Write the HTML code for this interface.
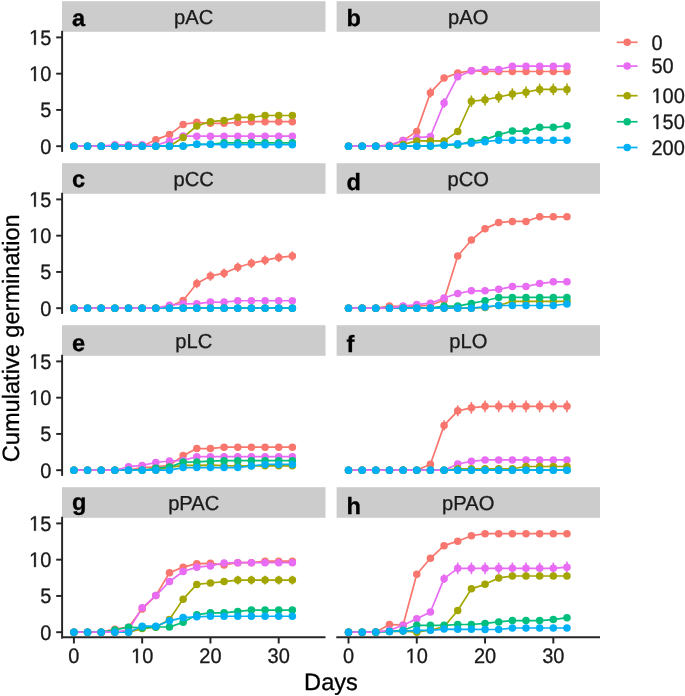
<!DOCTYPE html>
<html><head><meta charset="utf-8"><style>
html,body{margin:0;padding:0;background:#fff;width:685px;height:696px;overflow:hidden}
svg{display:block;font-family:"Liberation Sans",sans-serif;filter:blur(0.4px);text-rendering:geometricPrecision}
</style></head><body>
<svg width="685" height="696" viewBox="0 0 685 696">
<rect width="685" height="696" fill="#fff"/>
<rect x="62" y="1.2" width="263.5" height="30.6" fill="#CCCCCC"/>
<text x="193.75" y="23.9" font-size="20.2" text-anchor="middle" fill="#1a1a1a" stroke="#1a1a1a" stroke-width="0.3">pAC</text>
<text x="72" y="26" font-size="23.6" font-weight="bold" fill="#000" stroke="#000" stroke-width="0.3">a</text>
<polyline points="73.9,146.2 87.55,146.2 101.21,146.2 114.86,146.2 128.52,146.2 142.17,146.2 155.82,139.67 169.48,134.6 183.13,124.44 196.79,122.27 210.44,123.35 224.09,123.35 237.75,122.48 251.4,121.68 265.06,121.68 278.71,121.68 292.36,121.68" fill="none" stroke="#F8766D" stroke-width="1.7" stroke-linejoin="round"/>
<polyline points="73.9,146.2 87.55,146.2 101.21,146.2 114.86,146.2 128.52,146.2 142.17,146.2 155.82,146.2 169.48,146.2 183.13,137.5 196.79,125.89 210.44,121.68 224.09,120.45 237.75,117.33 251.4,117.33 265.06,115.52 278.71,115.52 292.36,115.52" fill="none" stroke="#A3A500" stroke-width="1.7" stroke-linejoin="round"/>
<polyline points="73.9,146.2 87.55,146.2 101.21,146.2 114.86,146.2 128.52,146.2 142.17,146.2 155.82,146.2 169.48,146.2 183.13,146.2 196.79,144.31 210.44,144.31 224.09,142.79 237.75,142.79 251.4,142.79 265.06,142.79 278.71,142.79 292.36,142.79" fill="none" stroke="#00BF7D" stroke-width="1.7" stroke-linejoin="round"/>
<polyline points="73.9,146.2 87.55,146.2 101.21,146.2 114.86,146.2 128.52,146.2 142.17,146.2 155.82,146.2 169.48,146.2 183.13,145.91 196.79,144.31 210.44,144.31 224.09,144.75 237.75,144.75 251.4,144.75 265.06,144.75 278.71,144.75 292.36,144.75" fill="none" stroke="#00B0F6" stroke-width="1.7" stroke-linejoin="round"/>
<polyline points="73.9,146.2 87.55,146.2 101.21,146.2 114.86,144.75 128.52,144.75 142.17,144.75 155.82,145.47 169.48,140.91 183.13,136.05 196.79,136.19 210.44,136.19 224.09,136.19 237.75,136.19 251.4,136.19 265.06,136.19 278.71,136.19 292.36,136.19" fill="none" stroke="#E76BF3" stroke-width="1.7" stroke-linejoin="round"/>
<circle cx="73.9" cy="146.2" r="3.75" fill="#F8766D"/>
<circle cx="87.55" cy="146.2" r="3.75" fill="#F8766D"/>
<circle cx="101.21" cy="146.2" r="3.75" fill="#F8766D"/>
<circle cx="114.86" cy="146.2" r="3.75" fill="#F8766D"/>
<circle cx="128.52" cy="146.2" r="3.75" fill="#F8766D"/>
<circle cx="142.17" cy="146.2" r="3.75" fill="#F8766D"/>
<circle cx="155.82" cy="139.67" r="3.75" fill="#F8766D"/>
<circle cx="169.48" cy="134.6" r="3.75" fill="#F8766D"/>
<circle cx="183.13" cy="124.44" r="3.75" fill="#F8766D"/>
<circle cx="196.79" cy="122.27" r="3.75" fill="#F8766D"/>
<circle cx="210.44" cy="123.35" r="3.75" fill="#F8766D"/>
<circle cx="224.09" cy="123.35" r="3.75" fill="#F8766D"/>
<circle cx="237.75" cy="122.48" r="3.75" fill="#F8766D"/>
<circle cx="251.4" cy="121.68" r="3.75" fill="#F8766D"/>
<circle cx="265.06" cy="121.68" r="3.75" fill="#F8766D"/>
<circle cx="278.71" cy="121.68" r="3.75" fill="#F8766D"/>
<circle cx="292.36" cy="121.68" r="3.75" fill="#F8766D"/>
<circle cx="73.9" cy="146.2" r="3.75" fill="#E76BF3"/>
<circle cx="87.55" cy="146.2" r="3.75" fill="#E76BF3"/>
<circle cx="101.21" cy="146.2" r="3.75" fill="#E76BF3"/>
<circle cx="114.86" cy="144.75" r="3.75" fill="#E76BF3"/>
<circle cx="128.52" cy="144.75" r="3.75" fill="#E76BF3"/>
<circle cx="142.17" cy="144.75" r="3.75" fill="#E76BF3"/>
<circle cx="155.82" cy="145.47" r="3.75" fill="#E76BF3"/>
<circle cx="169.48" cy="140.91" r="3.75" fill="#E76BF3"/>
<circle cx="183.13" cy="136.05" r="3.75" fill="#E76BF3"/>
<circle cx="196.79" cy="136.19" r="3.75" fill="#E76BF3"/>
<circle cx="210.44" cy="136.19" r="3.75" fill="#E76BF3"/>
<circle cx="224.09" cy="136.19" r="3.75" fill="#E76BF3"/>
<circle cx="237.75" cy="136.19" r="3.75" fill="#E76BF3"/>
<circle cx="251.4" cy="136.19" r="3.75" fill="#E76BF3"/>
<circle cx="265.06" cy="136.19" r="3.75" fill="#E76BF3"/>
<circle cx="278.71" cy="136.19" r="3.75" fill="#E76BF3"/>
<circle cx="292.36" cy="136.19" r="3.75" fill="#E76BF3"/>
<circle cx="73.9" cy="146.2" r="3.75" fill="#A3A500"/>
<circle cx="87.55" cy="146.2" r="3.75" fill="#A3A500"/>
<circle cx="101.21" cy="146.2" r="3.75" fill="#A3A500"/>
<circle cx="114.86" cy="146.2" r="3.75" fill="#A3A500"/>
<circle cx="128.52" cy="146.2" r="3.75" fill="#A3A500"/>
<circle cx="142.17" cy="146.2" r="3.75" fill="#A3A500"/>
<circle cx="155.82" cy="146.2" r="3.75" fill="#A3A500"/>
<circle cx="169.48" cy="146.2" r="3.75" fill="#A3A500"/>
<circle cx="183.13" cy="137.5" r="3.75" fill="#A3A500"/>
<circle cx="196.79" cy="125.89" r="3.75" fill="#A3A500"/>
<circle cx="210.44" cy="121.68" r="3.75" fill="#A3A500"/>
<circle cx="224.09" cy="120.45" r="3.75" fill="#A3A500"/>
<circle cx="237.75" cy="117.33" r="3.75" fill="#A3A500"/>
<circle cx="251.4" cy="117.33" r="3.75" fill="#A3A500"/>
<circle cx="265.06" cy="115.52" r="3.75" fill="#A3A500"/>
<circle cx="278.71" cy="115.52" r="3.75" fill="#A3A500"/>
<circle cx="292.36" cy="115.52" r="3.75" fill="#A3A500"/>
<circle cx="73.9" cy="146.2" r="3.75" fill="#00BF7D"/>
<circle cx="87.55" cy="146.2" r="3.75" fill="#00BF7D"/>
<circle cx="101.21" cy="146.2" r="3.75" fill="#00BF7D"/>
<circle cx="114.86" cy="146.2" r="3.75" fill="#00BF7D"/>
<circle cx="128.52" cy="146.2" r="3.75" fill="#00BF7D"/>
<circle cx="142.17" cy="146.2" r="3.75" fill="#00BF7D"/>
<circle cx="155.82" cy="146.2" r="3.75" fill="#00BF7D"/>
<circle cx="169.48" cy="146.2" r="3.75" fill="#00BF7D"/>
<circle cx="183.13" cy="146.2" r="3.75" fill="#00BF7D"/>
<circle cx="196.79" cy="144.31" r="3.75" fill="#00BF7D"/>
<circle cx="210.44" cy="144.31" r="3.75" fill="#00BF7D"/>
<circle cx="224.09" cy="142.79" r="3.75" fill="#00BF7D"/>
<circle cx="237.75" cy="142.79" r="3.75" fill="#00BF7D"/>
<circle cx="251.4" cy="142.79" r="3.75" fill="#00BF7D"/>
<circle cx="265.06" cy="142.79" r="3.75" fill="#00BF7D"/>
<circle cx="278.71" cy="142.79" r="3.75" fill="#00BF7D"/>
<circle cx="292.36" cy="142.79" r="3.75" fill="#00BF7D"/>
<circle cx="73.9" cy="146.2" r="3.75" fill="#00B0F6"/>
<circle cx="87.55" cy="146.2" r="3.75" fill="#00B0F6"/>
<circle cx="101.21" cy="146.2" r="3.75" fill="#00B0F6"/>
<circle cx="114.86" cy="146.2" r="3.75" fill="#00B0F6"/>
<circle cx="128.52" cy="146.2" r="3.75" fill="#00B0F6"/>
<circle cx="142.17" cy="146.2" r="3.75" fill="#00B0F6"/>
<circle cx="155.82" cy="146.2" r="3.75" fill="#00B0F6"/>
<circle cx="169.48" cy="146.2" r="3.75" fill="#00B0F6"/>
<circle cx="183.13" cy="145.91" r="3.75" fill="#00B0F6"/>
<circle cx="196.79" cy="144.31" r="3.75" fill="#00B0F6"/>
<circle cx="210.44" cy="144.31" r="3.75" fill="#00B0F6"/>
<circle cx="224.09" cy="144.75" r="3.75" fill="#00B0F6"/>
<circle cx="237.75" cy="144.75" r="3.75" fill="#00B0F6"/>
<circle cx="251.4" cy="144.75" r="3.75" fill="#00B0F6"/>
<circle cx="265.06" cy="144.75" r="3.75" fill="#00B0F6"/>
<circle cx="278.71" cy="144.75" r="3.75" fill="#00B0F6"/>
<circle cx="292.36" cy="144.75" r="3.75" fill="#00B0F6"/>
<line x1="62.1" x2="62.1" y1="30.8" y2="151.9" stroke="#262626" stroke-width="1.95"/>
<line x1="56.2" x2="62.1" y1="146.2" y2="146.2" stroke="#262626" stroke-width="1.95"/>
<text transform="translate(40.18 153.5) scale(1 1.05)" font-size="20" fill="#1a1a1a" stroke="#1a1a1a" stroke-width="0.3">0</text>
<line x1="56.2" x2="62.1" y1="109.93" y2="109.93" stroke="#262626" stroke-width="1.95"/>
<text transform="translate(40.18 117.23) scale(1 1.05)" font-size="20" fill="#1a1a1a" stroke="#1a1a1a" stroke-width="0.3">5</text>
<line x1="56.2" x2="62.1" y1="73.67" y2="73.67" stroke="#262626" stroke-width="1.95"/>
<path transform="translate(29.05 80.97) scale(0.009766 -0.010254)" d="M515 0L515 1237L197 1010L197 1180L530 1409L696 1409L696 0Z" fill="#1a1a1a" stroke="#1a1a1a" stroke-width="0.3" vector-effect="non-scaling-stroke"/>
<text transform="translate(40.18 80.97) scale(1 1.05)" font-size="20" fill="#1a1a1a" stroke="#1a1a1a" stroke-width="0.3">0</text>
<line x1="56.2" x2="62.1" y1="37.4" y2="37.4" stroke="#262626" stroke-width="1.95"/>
<path transform="translate(29.05 44.7) scale(0.009766 -0.010254)" d="M515 0L515 1237L197 1010L197 1180L530 1409L696 1409L696 0Z" fill="#1a1a1a" stroke="#1a1a1a" stroke-width="0.3" vector-effect="non-scaling-stroke"/>
<text transform="translate(40.18 44.7) scale(1 1.05)" font-size="20" fill="#1a1a1a" stroke="#1a1a1a" stroke-width="0.3">5</text>
<rect x="336.6" y="1.2" width="263.4" height="30.6" fill="#CCCCCC"/>
<text x="468.3" y="23.9" font-size="20.2" text-anchor="middle" fill="#1a1a1a" stroke="#1a1a1a" stroke-width="0.3">pAO</text>
<text x="346.6" y="26.25" font-size="23.6" font-weight="bold" fill="#000" stroke="#000" stroke-width="0.3">b</text>
<polyline points="348.5,146.2 362.15,146.2 375.81,146.2 389.46,145.47 403.12,140.62 416.77,131.4 430.42,92.67 444.08,78.09 457.73,72.94 471.39,70.77 485.04,71.49 498.69,71.49 512.35,71.49 526,71.49 539.66,71.49 553.31,71.49 566.96,71.49" fill="none" stroke="#F8766D" stroke-width="1.7" stroke-linejoin="round"/>
<polyline points="348.5,146.2 362.15,146.2 375.81,146.2 389.46,146.2 403.12,144.53 416.77,140.91 430.42,140.91 444.08,140.91 457.73,131.48 471.39,101.23 485.04,99.78 498.69,97.02 512.35,94.12 526,92.24 539.66,89.41 553.31,89.41 566.96,89.41" fill="none" stroke="#A3A500" stroke-width="1.7" stroke-linejoin="round"/>
<polyline points="348.5,146.2 362.15,146.2 375.81,146.2 389.46,146.2 403.12,146.2 416.77,146.2 430.42,146.2 444.08,145.26 457.73,144.97 471.39,141.41 485.04,139.67 498.69,134.6 512.35,131.11 526,131.11 539.66,127.34 553.31,127.34 566.96,125.82" fill="none" stroke="#00BF7D" stroke-width="1.7" stroke-linejoin="round"/>
<polyline points="348.5,146.2 362.15,146.2 375.81,146.2 389.46,146.2 403.12,146.2 416.77,146.2 430.42,145.84 444.08,145.04 457.73,143.66 471.39,143.3 485.04,141.63 498.69,140.25 512.35,140.25 526,140.25 539.66,140.25 553.31,140.25 566.96,140.25" fill="none" stroke="#00B0F6" stroke-width="1.7" stroke-linejoin="round"/>
<polyline points="348.5,146.2 362.15,146.2 375.81,146.2 389.46,145.33 403.12,140.62 416.77,137.71 430.42,136.55 444.08,102.97 457.73,76.72 471.39,70.77 485.04,69.54 498.69,69.54 512.35,66.2 526,66.2 539.66,66.2 553.31,66.2 566.96,66.2" fill="none" stroke="#E76BF3" stroke-width="1.7" stroke-linejoin="round"/>
<line x1="430.42" x2="430.42" y1="87.6" y2="97.75" stroke="#F8766D" stroke-width="1.6"/>
<line x1="444.08" x2="444.08" y1="97.9" y2="108.05" stroke="#E76BF3" stroke-width="1.6"/>
<line x1="471.39" x2="471.39" y1="95.43" y2="107.03" stroke="#A3A500" stroke-width="1.6"/>
<line x1="485.04" x2="485.04" y1="93.98" y2="105.58" stroke="#A3A500" stroke-width="1.6"/>
<line x1="498.69" x2="498.69" y1="91.22" y2="102.83" stroke="#A3A500" stroke-width="1.6"/>
<line x1="512.35" x2="512.35" y1="88.32" y2="99.93" stroke="#A3A500" stroke-width="1.6"/>
<line x1="526" x2="526" y1="86.44" y2="98.04" stroke="#A3A500" stroke-width="1.6"/>
<line x1="539.66" x2="539.66" y1="83.61" y2="95.21" stroke="#A3A500" stroke-width="1.6"/>
<line x1="553.31" x2="553.31" y1="83.61" y2="95.21" stroke="#A3A500" stroke-width="1.6"/>
<line x1="566.96" x2="566.96" y1="83.61" y2="95.21" stroke="#A3A500" stroke-width="1.6"/>
<circle cx="348.5" cy="146.2" r="3.75" fill="#F8766D"/>
<circle cx="362.15" cy="146.2" r="3.75" fill="#F8766D"/>
<circle cx="375.81" cy="146.2" r="3.75" fill="#F8766D"/>
<circle cx="389.46" cy="145.47" r="3.75" fill="#F8766D"/>
<circle cx="403.12" cy="140.62" r="3.75" fill="#F8766D"/>
<circle cx="416.77" cy="131.4" r="3.75" fill="#F8766D"/>
<circle cx="430.42" cy="92.67" r="3.75" fill="#F8766D"/>
<circle cx="444.08" cy="78.09" r="3.75" fill="#F8766D"/>
<circle cx="457.73" cy="72.94" r="3.75" fill="#F8766D"/>
<circle cx="471.39" cy="70.77" r="3.75" fill="#F8766D"/>
<circle cx="485.04" cy="71.49" r="3.75" fill="#F8766D"/>
<circle cx="498.69" cy="71.49" r="3.75" fill="#F8766D"/>
<circle cx="512.35" cy="71.49" r="3.75" fill="#F8766D"/>
<circle cx="526" cy="71.49" r="3.75" fill="#F8766D"/>
<circle cx="539.66" cy="71.49" r="3.75" fill="#F8766D"/>
<circle cx="553.31" cy="71.49" r="3.75" fill="#F8766D"/>
<circle cx="566.96" cy="71.49" r="3.75" fill="#F8766D"/>
<circle cx="348.5" cy="146.2" r="3.75" fill="#E76BF3"/>
<circle cx="362.15" cy="146.2" r="3.75" fill="#E76BF3"/>
<circle cx="375.81" cy="146.2" r="3.75" fill="#E76BF3"/>
<circle cx="389.46" cy="145.33" r="3.75" fill="#E76BF3"/>
<circle cx="403.12" cy="140.62" r="3.75" fill="#E76BF3"/>
<circle cx="416.77" cy="137.71" r="3.75" fill="#E76BF3"/>
<circle cx="430.42" cy="136.55" r="3.75" fill="#E76BF3"/>
<circle cx="444.08" cy="102.97" r="3.75" fill="#E76BF3"/>
<circle cx="457.73" cy="76.72" r="3.75" fill="#E76BF3"/>
<circle cx="471.39" cy="70.77" r="3.75" fill="#E76BF3"/>
<circle cx="485.04" cy="69.54" r="3.75" fill="#E76BF3"/>
<circle cx="498.69" cy="69.54" r="3.75" fill="#E76BF3"/>
<circle cx="512.35" cy="66.2" r="3.75" fill="#E76BF3"/>
<circle cx="526" cy="66.2" r="3.75" fill="#E76BF3"/>
<circle cx="539.66" cy="66.2" r="3.75" fill="#E76BF3"/>
<circle cx="553.31" cy="66.2" r="3.75" fill="#E76BF3"/>
<circle cx="566.96" cy="66.2" r="3.75" fill="#E76BF3"/>
<circle cx="348.5" cy="146.2" r="3.75" fill="#A3A500"/>
<circle cx="362.15" cy="146.2" r="3.75" fill="#A3A500"/>
<circle cx="375.81" cy="146.2" r="3.75" fill="#A3A500"/>
<circle cx="389.46" cy="146.2" r="3.75" fill="#A3A500"/>
<circle cx="403.12" cy="144.53" r="3.75" fill="#A3A500"/>
<circle cx="416.77" cy="140.91" r="3.75" fill="#A3A500"/>
<circle cx="430.42" cy="140.91" r="3.75" fill="#A3A500"/>
<circle cx="444.08" cy="140.91" r="3.75" fill="#A3A500"/>
<circle cx="457.73" cy="131.48" r="3.75" fill="#A3A500"/>
<circle cx="471.39" cy="101.23" r="3.75" fill="#A3A500"/>
<circle cx="485.04" cy="99.78" r="3.75" fill="#A3A500"/>
<circle cx="498.69" cy="97.02" r="3.75" fill="#A3A500"/>
<circle cx="512.35" cy="94.12" r="3.75" fill="#A3A500"/>
<circle cx="526" cy="92.24" r="3.75" fill="#A3A500"/>
<circle cx="539.66" cy="89.41" r="3.75" fill="#A3A500"/>
<circle cx="553.31" cy="89.41" r="3.75" fill="#A3A500"/>
<circle cx="566.96" cy="89.41" r="3.75" fill="#A3A500"/>
<circle cx="348.5" cy="146.2" r="3.75" fill="#00BF7D"/>
<circle cx="362.15" cy="146.2" r="3.75" fill="#00BF7D"/>
<circle cx="375.81" cy="146.2" r="3.75" fill="#00BF7D"/>
<circle cx="389.46" cy="146.2" r="3.75" fill="#00BF7D"/>
<circle cx="403.12" cy="146.2" r="3.75" fill="#00BF7D"/>
<circle cx="416.77" cy="146.2" r="3.75" fill="#00BF7D"/>
<circle cx="430.42" cy="146.2" r="3.75" fill="#00BF7D"/>
<circle cx="444.08" cy="145.26" r="3.75" fill="#00BF7D"/>
<circle cx="457.73" cy="144.97" r="3.75" fill="#00BF7D"/>
<circle cx="471.39" cy="141.41" r="3.75" fill="#00BF7D"/>
<circle cx="485.04" cy="139.67" r="3.75" fill="#00BF7D"/>
<circle cx="498.69" cy="134.6" r="3.75" fill="#00BF7D"/>
<circle cx="512.35" cy="131.11" r="3.75" fill="#00BF7D"/>
<circle cx="526" cy="131.11" r="3.75" fill="#00BF7D"/>
<circle cx="539.66" cy="127.34" r="3.75" fill="#00BF7D"/>
<circle cx="553.31" cy="127.34" r="3.75" fill="#00BF7D"/>
<circle cx="566.96" cy="125.82" r="3.75" fill="#00BF7D"/>
<circle cx="348.5" cy="146.2" r="3.75" fill="#00B0F6"/>
<circle cx="362.15" cy="146.2" r="3.75" fill="#00B0F6"/>
<circle cx="375.81" cy="146.2" r="3.75" fill="#00B0F6"/>
<circle cx="389.46" cy="146.2" r="3.75" fill="#00B0F6"/>
<circle cx="403.12" cy="146.2" r="3.75" fill="#00B0F6"/>
<circle cx="416.77" cy="146.2" r="3.75" fill="#00B0F6"/>
<circle cx="430.42" cy="145.84" r="3.75" fill="#00B0F6"/>
<circle cx="444.08" cy="145.04" r="3.75" fill="#00B0F6"/>
<circle cx="457.73" cy="143.66" r="3.75" fill="#00B0F6"/>
<circle cx="471.39" cy="143.3" r="3.75" fill="#00B0F6"/>
<circle cx="485.04" cy="141.63" r="3.75" fill="#00B0F6"/>
<circle cx="498.69" cy="140.25" r="3.75" fill="#00B0F6"/>
<circle cx="512.35" cy="140.25" r="3.75" fill="#00B0F6"/>
<circle cx="526" cy="140.25" r="3.75" fill="#00B0F6"/>
<circle cx="539.66" cy="140.25" r="3.75" fill="#00B0F6"/>
<circle cx="553.31" cy="140.25" r="3.75" fill="#00B0F6"/>
<circle cx="566.96" cy="140.25" r="3.75" fill="#00B0F6"/>
<rect x="62" y="163.2" width="263.5" height="30.6" fill="#CCCCCC"/>
<text x="193.75" y="185.9" font-size="20.2" text-anchor="middle" fill="#1a1a1a" stroke="#1a1a1a" stroke-width="0.3">pCC</text>
<text x="72" y="187.3" font-size="23.6" font-weight="bold" fill="#000" stroke="#000" stroke-width="0.3">c</text>
<polyline points="73.9,308.2 87.55,308.2 101.21,308.2 114.86,308.2 128.52,308.2 142.17,308.2 155.82,308.2 169.48,306.75 183.13,300.58 196.79,283.54 210.44,276.07 224.09,273.17 237.75,267.22 251.4,263.23 265.06,260.33 278.71,257.43 292.36,256.05" fill="none" stroke="#F8766D" stroke-width="1.7" stroke-linejoin="round"/>
<polyline points="73.9,308.2 87.55,308.2 101.21,308.2 114.86,308.2 128.52,308.2 142.17,308.2 155.82,308.2 169.48,308.2 183.13,308.2 196.79,308.2 210.44,308.2 224.09,308.2 237.75,308.2 251.4,308.2 265.06,308.2 278.71,308.2 292.36,308.2" fill="none" stroke="#A3A500" stroke-width="1.7" stroke-linejoin="round"/>
<polyline points="73.9,308.2 87.55,308.2 101.21,308.2 114.86,308.2 128.52,308.2 142.17,308.2 155.82,308.2 169.48,308.2 183.13,308.2 196.79,308.2 210.44,308.2 224.09,308.2 237.75,308.2 251.4,308.2 265.06,308.2 278.71,308.2 292.36,308.2" fill="none" stroke="#00BF7D" stroke-width="1.7" stroke-linejoin="round"/>
<polyline points="73.9,308.2 87.55,308.2 101.21,308.2 114.86,308.2 128.52,308.2 142.17,308.2 155.82,308.2 169.48,308.2 183.13,308.2 196.79,308.2 210.44,308.2 224.09,308.2 237.75,308.2 251.4,308.2 265.06,308.2 278.71,308.2 292.36,308.2" fill="none" stroke="#00B0F6" stroke-width="1.7" stroke-linejoin="round"/>
<polyline points="73.9,308.2 87.55,308.2 101.21,308.2 114.86,308.2 128.52,308.2 142.17,308.2 155.82,308.2 169.48,305.23 183.13,303.85 196.79,303.63 210.44,302.11 224.09,302.11 237.75,300.73 251.4,300.73 265.06,300.73 278.71,300.73 292.36,300.73" fill="none" stroke="#E76BF3" stroke-width="1.7" stroke-linejoin="round"/>
<line x1="196.79" x2="196.79" y1="278.83" y2="288.25" stroke="#F8766D" stroke-width="1.6"/>
<line x1="210.44" x2="210.44" y1="271.35" y2="280.78" stroke="#F8766D" stroke-width="1.6"/>
<line x1="224.09" x2="224.09" y1="268.45" y2="277.88" stroke="#F8766D" stroke-width="1.6"/>
<line x1="237.75" x2="237.75" y1="262.51" y2="271.94" stroke="#F8766D" stroke-width="1.6"/>
<line x1="251.4" x2="251.4" y1="258.52" y2="267.95" stroke="#F8766D" stroke-width="1.6"/>
<line x1="265.06" x2="265.06" y1="255.62" y2="265.04" stroke="#F8766D" stroke-width="1.6"/>
<line x1="278.71" x2="278.71" y1="252.71" y2="262.14" stroke="#F8766D" stroke-width="1.6"/>
<line x1="292.36" x2="292.36" y1="251.34" y2="260.77" stroke="#F8766D" stroke-width="1.6"/>
<circle cx="73.9" cy="308.2" r="3.75" fill="#F8766D"/>
<circle cx="87.55" cy="308.2" r="3.75" fill="#F8766D"/>
<circle cx="101.21" cy="308.2" r="3.75" fill="#F8766D"/>
<circle cx="114.86" cy="308.2" r="3.75" fill="#F8766D"/>
<circle cx="128.52" cy="308.2" r="3.75" fill="#F8766D"/>
<circle cx="142.17" cy="308.2" r="3.75" fill="#F8766D"/>
<circle cx="155.82" cy="308.2" r="3.75" fill="#F8766D"/>
<circle cx="169.48" cy="306.75" r="3.75" fill="#F8766D"/>
<circle cx="183.13" cy="300.58" r="3.75" fill="#F8766D"/>
<circle cx="196.79" cy="283.54" r="3.75" fill="#F8766D"/>
<circle cx="210.44" cy="276.07" r="3.75" fill="#F8766D"/>
<circle cx="224.09" cy="273.17" r="3.75" fill="#F8766D"/>
<circle cx="237.75" cy="267.22" r="3.75" fill="#F8766D"/>
<circle cx="251.4" cy="263.23" r="3.75" fill="#F8766D"/>
<circle cx="265.06" cy="260.33" r="3.75" fill="#F8766D"/>
<circle cx="278.71" cy="257.43" r="3.75" fill="#F8766D"/>
<circle cx="292.36" cy="256.05" r="3.75" fill="#F8766D"/>
<circle cx="73.9" cy="308.2" r="3.75" fill="#E76BF3"/>
<circle cx="87.55" cy="308.2" r="3.75" fill="#E76BF3"/>
<circle cx="101.21" cy="308.2" r="3.75" fill="#E76BF3"/>
<circle cx="114.86" cy="308.2" r="3.75" fill="#E76BF3"/>
<circle cx="128.52" cy="308.2" r="3.75" fill="#E76BF3"/>
<circle cx="142.17" cy="308.2" r="3.75" fill="#E76BF3"/>
<circle cx="155.82" cy="308.2" r="3.75" fill="#E76BF3"/>
<circle cx="169.48" cy="305.23" r="3.75" fill="#E76BF3"/>
<circle cx="183.13" cy="303.85" r="3.75" fill="#E76BF3"/>
<circle cx="196.79" cy="303.63" r="3.75" fill="#E76BF3"/>
<circle cx="210.44" cy="302.11" r="3.75" fill="#E76BF3"/>
<circle cx="224.09" cy="302.11" r="3.75" fill="#E76BF3"/>
<circle cx="237.75" cy="300.73" r="3.75" fill="#E76BF3"/>
<circle cx="251.4" cy="300.73" r="3.75" fill="#E76BF3"/>
<circle cx="265.06" cy="300.73" r="3.75" fill="#E76BF3"/>
<circle cx="278.71" cy="300.73" r="3.75" fill="#E76BF3"/>
<circle cx="292.36" cy="300.73" r="3.75" fill="#E76BF3"/>
<circle cx="73.9" cy="308.2" r="3.75" fill="#A3A500"/>
<circle cx="87.55" cy="308.2" r="3.75" fill="#A3A500"/>
<circle cx="101.21" cy="308.2" r="3.75" fill="#A3A500"/>
<circle cx="114.86" cy="308.2" r="3.75" fill="#A3A500"/>
<circle cx="128.52" cy="308.2" r="3.75" fill="#A3A500"/>
<circle cx="142.17" cy="308.2" r="3.75" fill="#A3A500"/>
<circle cx="155.82" cy="308.2" r="3.75" fill="#A3A500"/>
<circle cx="169.48" cy="308.2" r="3.75" fill="#A3A500"/>
<circle cx="183.13" cy="308.2" r="3.75" fill="#A3A500"/>
<circle cx="196.79" cy="308.2" r="3.75" fill="#A3A500"/>
<circle cx="210.44" cy="308.2" r="3.75" fill="#A3A500"/>
<circle cx="224.09" cy="308.2" r="3.75" fill="#A3A500"/>
<circle cx="237.75" cy="308.2" r="3.75" fill="#A3A500"/>
<circle cx="251.4" cy="308.2" r="3.75" fill="#A3A500"/>
<circle cx="265.06" cy="308.2" r="3.75" fill="#A3A500"/>
<circle cx="278.71" cy="308.2" r="3.75" fill="#A3A500"/>
<circle cx="292.36" cy="308.2" r="3.75" fill="#A3A500"/>
<circle cx="73.9" cy="308.2" r="3.75" fill="#00BF7D"/>
<circle cx="87.55" cy="308.2" r="3.75" fill="#00BF7D"/>
<circle cx="101.21" cy="308.2" r="3.75" fill="#00BF7D"/>
<circle cx="114.86" cy="308.2" r="3.75" fill="#00BF7D"/>
<circle cx="128.52" cy="308.2" r="3.75" fill="#00BF7D"/>
<circle cx="142.17" cy="308.2" r="3.75" fill="#00BF7D"/>
<circle cx="155.82" cy="308.2" r="3.75" fill="#00BF7D"/>
<circle cx="169.48" cy="308.2" r="3.75" fill="#00BF7D"/>
<circle cx="183.13" cy="308.2" r="3.75" fill="#00BF7D"/>
<circle cx="196.79" cy="308.2" r="3.75" fill="#00BF7D"/>
<circle cx="210.44" cy="308.2" r="3.75" fill="#00BF7D"/>
<circle cx="224.09" cy="308.2" r="3.75" fill="#00BF7D"/>
<circle cx="237.75" cy="308.2" r="3.75" fill="#00BF7D"/>
<circle cx="251.4" cy="308.2" r="3.75" fill="#00BF7D"/>
<circle cx="265.06" cy="308.2" r="3.75" fill="#00BF7D"/>
<circle cx="278.71" cy="308.2" r="3.75" fill="#00BF7D"/>
<circle cx="292.36" cy="308.2" r="3.75" fill="#00BF7D"/>
<circle cx="73.9" cy="308.2" r="3.75" fill="#00B0F6"/>
<circle cx="87.55" cy="308.2" r="3.75" fill="#00B0F6"/>
<circle cx="101.21" cy="308.2" r="3.75" fill="#00B0F6"/>
<circle cx="114.86" cy="308.2" r="3.75" fill="#00B0F6"/>
<circle cx="128.52" cy="308.2" r="3.75" fill="#00B0F6"/>
<circle cx="142.17" cy="308.2" r="3.75" fill="#00B0F6"/>
<circle cx="155.82" cy="308.2" r="3.75" fill="#00B0F6"/>
<circle cx="169.48" cy="308.2" r="3.75" fill="#00B0F6"/>
<circle cx="183.13" cy="308.2" r="3.75" fill="#00B0F6"/>
<circle cx="196.79" cy="308.2" r="3.75" fill="#00B0F6"/>
<circle cx="210.44" cy="308.2" r="3.75" fill="#00B0F6"/>
<circle cx="224.09" cy="308.2" r="3.75" fill="#00B0F6"/>
<circle cx="237.75" cy="308.2" r="3.75" fill="#00B0F6"/>
<circle cx="251.4" cy="308.2" r="3.75" fill="#00B0F6"/>
<circle cx="265.06" cy="308.2" r="3.75" fill="#00B0F6"/>
<circle cx="278.71" cy="308.2" r="3.75" fill="#00B0F6"/>
<circle cx="292.36" cy="308.2" r="3.75" fill="#00B0F6"/>
<line x1="62.1" x2="62.1" y1="192.8" y2="313.9" stroke="#262626" stroke-width="1.95"/>
<line x1="56.2" x2="62.1" y1="308.2" y2="308.2" stroke="#262626" stroke-width="1.95"/>
<text transform="translate(40.18 315.5) scale(1 1.05)" font-size="20" fill="#1a1a1a" stroke="#1a1a1a" stroke-width="0.3">0</text>
<line x1="56.2" x2="62.1" y1="271.94" y2="271.94" stroke="#262626" stroke-width="1.95"/>
<text transform="translate(40.18 279.24) scale(1 1.05)" font-size="20" fill="#1a1a1a" stroke="#1a1a1a" stroke-width="0.3">5</text>
<line x1="56.2" x2="62.1" y1="235.67" y2="235.67" stroke="#262626" stroke-width="1.95"/>
<path transform="translate(29.05 242.97) scale(0.009766 -0.010254)" d="M515 0L515 1237L197 1010L197 1180L530 1409L696 1409L696 0Z" fill="#1a1a1a" stroke="#1a1a1a" stroke-width="0.3" vector-effect="non-scaling-stroke"/>
<text transform="translate(40.18 242.97) scale(1 1.05)" font-size="20" fill="#1a1a1a" stroke="#1a1a1a" stroke-width="0.3">0</text>
<line x1="56.2" x2="62.1" y1="199.4" y2="199.4" stroke="#262626" stroke-width="1.95"/>
<path transform="translate(29.05 206.7) scale(0.009766 -0.010254)" d="M515 0L515 1237L197 1010L197 1180L530 1409L696 1409L696 0Z" fill="#1a1a1a" stroke="#1a1a1a" stroke-width="0.3" vector-effect="non-scaling-stroke"/>
<text transform="translate(40.18 206.7) scale(1 1.05)" font-size="20" fill="#1a1a1a" stroke="#1a1a1a" stroke-width="0.3">5</text>
<rect x="336.6" y="163.2" width="263.4" height="30.6" fill="#CCCCCC"/>
<text x="468.3" y="185.9" font-size="20.2" text-anchor="middle" fill="#1a1a1a" stroke="#1a1a1a" stroke-width="0.3">pCO</text>
<text x="346.6" y="190.15" font-size="23.6" font-weight="bold" fill="#000" stroke="#000" stroke-width="0.3">d</text>
<polyline points="348.5,308.2 362.15,308.2 375.81,308.2 389.46,306.1 403.12,306.39 416.77,306.1 430.42,305.23 444.08,299.93 457.73,256.05 471.39,240.02 485.04,228.63 498.69,222.61 512.35,221.38 526,221.38 539.66,216.81 553.31,216.81 566.96,216.81" fill="none" stroke="#F8766D" stroke-width="1.7" stroke-linejoin="round"/>
<polyline points="348.5,308.2 362.15,308.2 375.81,308.2 389.46,308.2 403.12,308.2 416.77,308.2 430.42,308.2 444.08,308.2 457.73,308.2 471.39,308.2 485.04,307.47 498.69,305.52 512.35,301.31 526,301.31 539.66,301.31 553.31,301.31 566.96,301.31" fill="none" stroke="#A3A500" stroke-width="1.7" stroke-linejoin="round"/>
<polyline points="348.5,308.2 362.15,308.2 375.81,308.2 389.46,308.2 403.12,308.2 416.77,308.2 430.42,308.2 444.08,306.1 457.73,306.1 471.39,303.41 485.04,300.73 498.69,297.47 512.35,297.47 526,297.47 539.66,297.47 553.31,297.47 566.96,297.47" fill="none" stroke="#00BF7D" stroke-width="1.7" stroke-linejoin="round"/>
<polyline points="348.5,308.2 362.15,308.2 375.81,308.2 389.46,308.2 403.12,308.2 416.77,308.2 430.42,308.2 444.08,308.2 457.73,308.2 471.39,308.2 485.04,306.97 498.69,305.52 512.35,305.52 526,305.52 539.66,305.52 553.31,305.52 566.96,303.99" fill="none" stroke="#00B0F6" stroke-width="1.7" stroke-linejoin="round"/>
<polyline points="348.5,308.2 362.15,308.2 375.81,308.2 389.46,308.2 403.12,306.1 416.77,304.57 430.42,303.2 444.08,297.97 457.73,293.55 471.39,290.79 485.04,290.79 498.69,289.34 512.35,286.51 526,286.51 539.66,283.61 553.31,281.8 566.96,281.8" fill="none" stroke="#E76BF3" stroke-width="1.7" stroke-linejoin="round"/>
<circle cx="348.5" cy="308.2" r="3.75" fill="#F8766D"/>
<circle cx="362.15" cy="308.2" r="3.75" fill="#F8766D"/>
<circle cx="375.81" cy="308.2" r="3.75" fill="#F8766D"/>
<circle cx="389.46" cy="306.1" r="3.75" fill="#F8766D"/>
<circle cx="403.12" cy="306.39" r="3.75" fill="#F8766D"/>
<circle cx="416.77" cy="306.1" r="3.75" fill="#F8766D"/>
<circle cx="430.42" cy="305.23" r="3.75" fill="#F8766D"/>
<circle cx="444.08" cy="299.93" r="3.75" fill="#F8766D"/>
<circle cx="457.73" cy="256.05" r="3.75" fill="#F8766D"/>
<circle cx="471.39" cy="240.02" r="3.75" fill="#F8766D"/>
<circle cx="485.04" cy="228.63" r="3.75" fill="#F8766D"/>
<circle cx="498.69" cy="222.61" r="3.75" fill="#F8766D"/>
<circle cx="512.35" cy="221.38" r="3.75" fill="#F8766D"/>
<circle cx="526" cy="221.38" r="3.75" fill="#F8766D"/>
<circle cx="539.66" cy="216.81" r="3.75" fill="#F8766D"/>
<circle cx="553.31" cy="216.81" r="3.75" fill="#F8766D"/>
<circle cx="566.96" cy="216.81" r="3.75" fill="#F8766D"/>
<circle cx="348.5" cy="308.2" r="3.75" fill="#E76BF3"/>
<circle cx="362.15" cy="308.2" r="3.75" fill="#E76BF3"/>
<circle cx="375.81" cy="308.2" r="3.75" fill="#E76BF3"/>
<circle cx="389.46" cy="308.2" r="3.75" fill="#E76BF3"/>
<circle cx="403.12" cy="306.1" r="3.75" fill="#E76BF3"/>
<circle cx="416.77" cy="304.57" r="3.75" fill="#E76BF3"/>
<circle cx="430.42" cy="303.2" r="3.75" fill="#E76BF3"/>
<circle cx="444.08" cy="297.97" r="3.75" fill="#E76BF3"/>
<circle cx="457.73" cy="293.55" r="3.75" fill="#E76BF3"/>
<circle cx="471.39" cy="290.79" r="3.75" fill="#E76BF3"/>
<circle cx="485.04" cy="290.79" r="3.75" fill="#E76BF3"/>
<circle cx="498.69" cy="289.34" r="3.75" fill="#E76BF3"/>
<circle cx="512.35" cy="286.51" r="3.75" fill="#E76BF3"/>
<circle cx="526" cy="286.51" r="3.75" fill="#E76BF3"/>
<circle cx="539.66" cy="283.61" r="3.75" fill="#E76BF3"/>
<circle cx="553.31" cy="281.8" r="3.75" fill="#E76BF3"/>
<circle cx="566.96" cy="281.8" r="3.75" fill="#E76BF3"/>
<circle cx="348.5" cy="308.2" r="3.75" fill="#A3A500"/>
<circle cx="362.15" cy="308.2" r="3.75" fill="#A3A500"/>
<circle cx="375.81" cy="308.2" r="3.75" fill="#A3A500"/>
<circle cx="389.46" cy="308.2" r="3.75" fill="#A3A500"/>
<circle cx="403.12" cy="308.2" r="3.75" fill="#A3A500"/>
<circle cx="416.77" cy="308.2" r="3.75" fill="#A3A500"/>
<circle cx="430.42" cy="308.2" r="3.75" fill="#A3A500"/>
<circle cx="444.08" cy="308.2" r="3.75" fill="#A3A500"/>
<circle cx="457.73" cy="308.2" r="3.75" fill="#A3A500"/>
<circle cx="471.39" cy="308.2" r="3.75" fill="#A3A500"/>
<circle cx="485.04" cy="307.47" r="3.75" fill="#A3A500"/>
<circle cx="498.69" cy="305.52" r="3.75" fill="#A3A500"/>
<circle cx="512.35" cy="301.31" r="3.75" fill="#A3A500"/>
<circle cx="526" cy="301.31" r="3.75" fill="#A3A500"/>
<circle cx="539.66" cy="301.31" r="3.75" fill="#A3A500"/>
<circle cx="553.31" cy="301.31" r="3.75" fill="#A3A500"/>
<circle cx="566.96" cy="301.31" r="3.75" fill="#A3A500"/>
<circle cx="348.5" cy="308.2" r="3.75" fill="#00BF7D"/>
<circle cx="362.15" cy="308.2" r="3.75" fill="#00BF7D"/>
<circle cx="375.81" cy="308.2" r="3.75" fill="#00BF7D"/>
<circle cx="389.46" cy="308.2" r="3.75" fill="#00BF7D"/>
<circle cx="403.12" cy="308.2" r="3.75" fill="#00BF7D"/>
<circle cx="416.77" cy="308.2" r="3.75" fill="#00BF7D"/>
<circle cx="430.42" cy="308.2" r="3.75" fill="#00BF7D"/>
<circle cx="444.08" cy="306.1" r="3.75" fill="#00BF7D"/>
<circle cx="457.73" cy="306.1" r="3.75" fill="#00BF7D"/>
<circle cx="471.39" cy="303.41" r="3.75" fill="#00BF7D"/>
<circle cx="485.04" cy="300.73" r="3.75" fill="#00BF7D"/>
<circle cx="498.69" cy="297.47" r="3.75" fill="#00BF7D"/>
<circle cx="512.35" cy="297.47" r="3.75" fill="#00BF7D"/>
<circle cx="526" cy="297.47" r="3.75" fill="#00BF7D"/>
<circle cx="539.66" cy="297.47" r="3.75" fill="#00BF7D"/>
<circle cx="553.31" cy="297.47" r="3.75" fill="#00BF7D"/>
<circle cx="566.96" cy="297.47" r="3.75" fill="#00BF7D"/>
<circle cx="348.5" cy="308.2" r="3.75" fill="#00B0F6"/>
<circle cx="362.15" cy="308.2" r="3.75" fill="#00B0F6"/>
<circle cx="375.81" cy="308.2" r="3.75" fill="#00B0F6"/>
<circle cx="389.46" cy="308.2" r="3.75" fill="#00B0F6"/>
<circle cx="403.12" cy="308.2" r="3.75" fill="#00B0F6"/>
<circle cx="416.77" cy="308.2" r="3.75" fill="#00B0F6"/>
<circle cx="430.42" cy="308.2" r="3.75" fill="#00B0F6"/>
<circle cx="444.08" cy="308.2" r="3.75" fill="#00B0F6"/>
<circle cx="457.73" cy="308.2" r="3.75" fill="#00B0F6"/>
<circle cx="471.39" cy="308.2" r="3.75" fill="#00B0F6"/>
<circle cx="485.04" cy="306.97" r="3.75" fill="#00B0F6"/>
<circle cx="498.69" cy="305.52" r="3.75" fill="#00B0F6"/>
<circle cx="512.35" cy="305.52" r="3.75" fill="#00B0F6"/>
<circle cx="526" cy="305.52" r="3.75" fill="#00B0F6"/>
<circle cx="539.66" cy="305.52" r="3.75" fill="#00B0F6"/>
<circle cx="553.31" cy="305.52" r="3.75" fill="#00B0F6"/>
<circle cx="566.96" cy="303.99" r="3.75" fill="#00B0F6"/>
<rect x="62" y="325.2" width="263.5" height="30.6" fill="#CCCCCC"/>
<text x="193.75" y="347.9" font-size="20.2" text-anchor="middle" fill="#1a1a1a" stroke="#1a1a1a" stroke-width="0.3">pLC</text>
<text x="72" y="350.9" font-size="23.6" font-weight="bold" fill="#000" stroke="#000" stroke-width="0.3">e</text>
<polyline points="73.9,470.2 87.55,470.2 101.21,470.2 114.86,470.2 128.52,470.2 142.17,467.59 155.82,466.94 169.48,465.41 183.13,455.62 196.79,448.59 210.44,448.59 224.09,447.21 237.75,447.21 251.4,447.21 265.06,447.21 278.71,447.21 292.36,447.21" fill="none" stroke="#F8766D" stroke-width="1.7" stroke-linejoin="round"/>
<polyline points="73.9,470.2 87.55,470.2 101.21,470.2 114.86,470.2 128.52,470.2 142.17,470.2 155.82,470.2 169.48,467.3 183.13,465.41 196.79,465.41 210.44,465.12 224.09,465.7 237.75,465.85 251.4,465.85 265.06,465.85 278.71,465.85 292.36,465.85" fill="none" stroke="#A3A500" stroke-width="1.7" stroke-linejoin="round"/>
<polyline points="73.9,470.2 87.55,470.2 101.21,470.2 114.86,470.2 128.52,470.2 142.17,470.2 155.82,468.31 169.48,466.94 183.13,462.08 196.79,461.93 210.44,461.13 224.09,460.7 237.75,460.7 251.4,460.7 265.06,460.7 278.71,460.7 292.36,460.7" fill="none" stroke="#00BF7D" stroke-width="1.7" stroke-linejoin="round"/>
<polyline points="73.9,470.2 87.55,470.2 101.21,470.2 114.86,470.2 128.52,470.2 142.17,470.2 155.82,470.2 169.48,470.2 183.13,467.59 196.79,467.59 210.44,467.59 224.09,467.59 237.75,467.59 251.4,465.99 265.06,464.47 278.71,464.47 292.36,464.47" fill="none" stroke="#00B0F6" stroke-width="1.7" stroke-linejoin="round"/>
<polyline points="73.9,470.2 87.55,470.2 101.21,470.2 114.86,470.2 128.52,466.72 142.17,465.41 155.82,462.51 169.48,460.99 183.13,460.41 196.79,456.71 210.44,456.71 224.09,456.71 237.75,456.71 251.4,456.71 265.06,456.71 278.71,456.71 292.36,456.71" fill="none" stroke="#E76BF3" stroke-width="1.7" stroke-linejoin="round"/>
<circle cx="73.9" cy="470.2" r="3.75" fill="#F8766D"/>
<circle cx="87.55" cy="470.2" r="3.75" fill="#F8766D"/>
<circle cx="101.21" cy="470.2" r="3.75" fill="#F8766D"/>
<circle cx="114.86" cy="470.2" r="3.75" fill="#F8766D"/>
<circle cx="128.52" cy="470.2" r="3.75" fill="#F8766D"/>
<circle cx="142.17" cy="467.59" r="3.75" fill="#F8766D"/>
<circle cx="155.82" cy="466.94" r="3.75" fill="#F8766D"/>
<circle cx="169.48" cy="465.41" r="3.75" fill="#F8766D"/>
<circle cx="183.13" cy="455.62" r="3.75" fill="#F8766D"/>
<circle cx="196.79" cy="448.59" r="3.75" fill="#F8766D"/>
<circle cx="210.44" cy="448.59" r="3.75" fill="#F8766D"/>
<circle cx="224.09" cy="447.21" r="3.75" fill="#F8766D"/>
<circle cx="237.75" cy="447.21" r="3.75" fill="#F8766D"/>
<circle cx="251.4" cy="447.21" r="3.75" fill="#F8766D"/>
<circle cx="265.06" cy="447.21" r="3.75" fill="#F8766D"/>
<circle cx="278.71" cy="447.21" r="3.75" fill="#F8766D"/>
<circle cx="292.36" cy="447.21" r="3.75" fill="#F8766D"/>
<circle cx="73.9" cy="470.2" r="3.75" fill="#E76BF3"/>
<circle cx="87.55" cy="470.2" r="3.75" fill="#E76BF3"/>
<circle cx="101.21" cy="470.2" r="3.75" fill="#E76BF3"/>
<circle cx="114.86" cy="470.2" r="3.75" fill="#E76BF3"/>
<circle cx="128.52" cy="466.72" r="3.75" fill="#E76BF3"/>
<circle cx="142.17" cy="465.41" r="3.75" fill="#E76BF3"/>
<circle cx="155.82" cy="462.51" r="3.75" fill="#E76BF3"/>
<circle cx="169.48" cy="460.99" r="3.75" fill="#E76BF3"/>
<circle cx="183.13" cy="460.41" r="3.75" fill="#E76BF3"/>
<circle cx="196.79" cy="456.71" r="3.75" fill="#E76BF3"/>
<circle cx="210.44" cy="456.71" r="3.75" fill="#E76BF3"/>
<circle cx="224.09" cy="456.71" r="3.75" fill="#E76BF3"/>
<circle cx="237.75" cy="456.71" r="3.75" fill="#E76BF3"/>
<circle cx="251.4" cy="456.71" r="3.75" fill="#E76BF3"/>
<circle cx="265.06" cy="456.71" r="3.75" fill="#E76BF3"/>
<circle cx="278.71" cy="456.71" r="3.75" fill="#E76BF3"/>
<circle cx="292.36" cy="456.71" r="3.75" fill="#E76BF3"/>
<circle cx="73.9" cy="470.2" r="3.75" fill="#A3A500"/>
<circle cx="87.55" cy="470.2" r="3.75" fill="#A3A500"/>
<circle cx="101.21" cy="470.2" r="3.75" fill="#A3A500"/>
<circle cx="114.86" cy="470.2" r="3.75" fill="#A3A500"/>
<circle cx="128.52" cy="470.2" r="3.75" fill="#A3A500"/>
<circle cx="142.17" cy="470.2" r="3.75" fill="#A3A500"/>
<circle cx="155.82" cy="470.2" r="3.75" fill="#A3A500"/>
<circle cx="169.48" cy="467.3" r="3.75" fill="#A3A500"/>
<circle cx="183.13" cy="465.41" r="3.75" fill="#A3A500"/>
<circle cx="196.79" cy="465.41" r="3.75" fill="#A3A500"/>
<circle cx="210.44" cy="465.12" r="3.75" fill="#A3A500"/>
<circle cx="224.09" cy="465.7" r="3.75" fill="#A3A500"/>
<circle cx="237.75" cy="465.85" r="3.75" fill="#A3A500"/>
<circle cx="251.4" cy="465.85" r="3.75" fill="#A3A500"/>
<circle cx="265.06" cy="465.85" r="3.75" fill="#A3A500"/>
<circle cx="278.71" cy="465.85" r="3.75" fill="#A3A500"/>
<circle cx="292.36" cy="465.85" r="3.75" fill="#A3A500"/>
<circle cx="73.9" cy="470.2" r="3.75" fill="#00BF7D"/>
<circle cx="87.55" cy="470.2" r="3.75" fill="#00BF7D"/>
<circle cx="101.21" cy="470.2" r="3.75" fill="#00BF7D"/>
<circle cx="114.86" cy="470.2" r="3.75" fill="#00BF7D"/>
<circle cx="128.52" cy="470.2" r="3.75" fill="#00BF7D"/>
<circle cx="142.17" cy="470.2" r="3.75" fill="#00BF7D"/>
<circle cx="155.82" cy="468.31" r="3.75" fill="#00BF7D"/>
<circle cx="169.48" cy="466.94" r="3.75" fill="#00BF7D"/>
<circle cx="183.13" cy="462.08" r="3.75" fill="#00BF7D"/>
<circle cx="196.79" cy="461.93" r="3.75" fill="#00BF7D"/>
<circle cx="210.44" cy="461.13" r="3.75" fill="#00BF7D"/>
<circle cx="224.09" cy="460.7" r="3.75" fill="#00BF7D"/>
<circle cx="237.75" cy="460.7" r="3.75" fill="#00BF7D"/>
<circle cx="251.4" cy="460.7" r="3.75" fill="#00BF7D"/>
<circle cx="265.06" cy="460.7" r="3.75" fill="#00BF7D"/>
<circle cx="278.71" cy="460.7" r="3.75" fill="#00BF7D"/>
<circle cx="292.36" cy="460.7" r="3.75" fill="#00BF7D"/>
<circle cx="73.9" cy="470.2" r="3.75" fill="#00B0F6"/>
<circle cx="87.55" cy="470.2" r="3.75" fill="#00B0F6"/>
<circle cx="101.21" cy="470.2" r="3.75" fill="#00B0F6"/>
<circle cx="114.86" cy="470.2" r="3.75" fill="#00B0F6"/>
<circle cx="128.52" cy="470.2" r="3.75" fill="#00B0F6"/>
<circle cx="142.17" cy="470.2" r="3.75" fill="#00B0F6"/>
<circle cx="155.82" cy="470.2" r="3.75" fill="#00B0F6"/>
<circle cx="169.48" cy="470.2" r="3.75" fill="#00B0F6"/>
<circle cx="183.13" cy="467.59" r="3.75" fill="#00B0F6"/>
<circle cx="196.79" cy="467.59" r="3.75" fill="#00B0F6"/>
<circle cx="210.44" cy="467.59" r="3.75" fill="#00B0F6"/>
<circle cx="224.09" cy="467.59" r="3.75" fill="#00B0F6"/>
<circle cx="237.75" cy="467.59" r="3.75" fill="#00B0F6"/>
<circle cx="251.4" cy="465.99" r="3.75" fill="#00B0F6"/>
<circle cx="265.06" cy="464.47" r="3.75" fill="#00B0F6"/>
<circle cx="278.71" cy="464.47" r="3.75" fill="#00B0F6"/>
<circle cx="292.36" cy="464.47" r="3.75" fill="#00B0F6"/>
<line x1="62.1" x2="62.1" y1="354.8" y2="475.9" stroke="#262626" stroke-width="1.95"/>
<line x1="56.2" x2="62.1" y1="470.2" y2="470.2" stroke="#262626" stroke-width="1.95"/>
<text transform="translate(40.18 477.5) scale(1 1.05)" font-size="20" fill="#1a1a1a" stroke="#1a1a1a" stroke-width="0.3">0</text>
<line x1="56.2" x2="62.1" y1="433.94" y2="433.94" stroke="#262626" stroke-width="1.95"/>
<text transform="translate(40.18 441.24) scale(1 1.05)" font-size="20" fill="#1a1a1a" stroke="#1a1a1a" stroke-width="0.3">5</text>
<line x1="56.2" x2="62.1" y1="397.67" y2="397.67" stroke="#262626" stroke-width="1.95"/>
<path transform="translate(29.05 404.97) scale(0.009766 -0.010254)" d="M515 0L515 1237L197 1010L197 1180L530 1409L696 1409L696 0Z" fill="#1a1a1a" stroke="#1a1a1a" stroke-width="0.3" vector-effect="non-scaling-stroke"/>
<text transform="translate(40.18 404.97) scale(1 1.05)" font-size="20" fill="#1a1a1a" stroke="#1a1a1a" stroke-width="0.3">0</text>
<line x1="56.2" x2="62.1" y1="361.4" y2="361.4" stroke="#262626" stroke-width="1.95"/>
<path transform="translate(29.05 368.7) scale(0.009766 -0.010254)" d="M515 0L515 1237L197 1010L197 1180L530 1409L696 1409L696 0Z" fill="#1a1a1a" stroke="#1a1a1a" stroke-width="0.3" vector-effect="non-scaling-stroke"/>
<text transform="translate(40.18 368.7) scale(1 1.05)" font-size="20" fill="#1a1a1a" stroke="#1a1a1a" stroke-width="0.3">5</text>
<rect x="336.6" y="325.2" width="263.4" height="30.6" fill="#CCCCCC"/>
<text x="468.3" y="347.9" font-size="20.2" text-anchor="middle" fill="#1a1a1a" stroke="#1a1a1a" stroke-width="0.3">pLO</text>
<text x="346.6" y="351.9" font-size="23.6" font-weight="bold" fill="#000" stroke="#000" stroke-width="0.3">f</text>
<polyline points="348.5,470.2 362.15,470.2 375.81,470.2 389.46,470.2 403.12,470.2 416.77,470.2 430.42,464.18 444.08,425.38 457.73,410.8 471.39,407.82 485.04,406.37 498.69,406.37 512.35,406.37 526,406.37 539.66,406.37 553.31,406.37 566.96,406.37" fill="none" stroke="#F8766D" stroke-width="1.7" stroke-linejoin="round"/>
<polyline points="348.5,470.2 362.15,470.2 375.81,470.2 389.46,470.2 403.12,470.2 416.77,470.2 430.42,470.2 444.08,470.2 457.73,468.75 471.39,468.75 485.04,468.75 498.69,468.75 512.35,468.75 526,466.5 539.66,466.5 553.31,466.5 566.96,466.5" fill="none" stroke="#A3A500" stroke-width="1.7" stroke-linejoin="round"/>
<polyline points="348.5,470.2 362.15,470.2 375.81,470.2 389.46,470.2 403.12,470.2 416.77,470.2 430.42,470.2 444.08,470.2 457.73,470.2 471.39,470.2 485.04,470.2 498.69,470.2 512.35,470.2 526,470.2 539.66,470.2 553.31,470.2 566.96,470.2" fill="none" stroke="#00BF7D" stroke-width="1.7" stroke-linejoin="round"/>
<polyline points="348.5,470.2 362.15,470.2 375.81,470.2 389.46,470.2 403.12,470.2 416.77,470.2 430.42,470.2 444.08,470.2 457.73,470.2 471.39,470.2 485.04,470.2 498.69,470.2 512.35,470.2 526,470.2 539.66,470.2 553.31,470.2 566.96,470.2" fill="none" stroke="#00B0F6" stroke-width="1.7" stroke-linejoin="round"/>
<polyline points="348.5,470.2 362.15,470.2 375.81,470.2 389.46,470.2 403.12,470.2 416.77,470.2 430.42,470.2 444.08,470.2 457.73,463.96 471.39,461.35 485.04,459.9 498.69,459.9 512.35,459.9 526,459.9 539.66,459.9 553.31,459.9 566.96,459.9" fill="none" stroke="#E76BF3" stroke-width="1.7" stroke-linejoin="round"/>
<line x1="444.08" x2="444.08" y1="420.3" y2="430.45" stroke="#F8766D" stroke-width="1.6"/>
<line x1="457.73" x2="457.73" y1="405.36" y2="416.24" stroke="#F8766D" stroke-width="1.6"/>
<line x1="471.39" x2="471.39" y1="402.02" y2="413.63" stroke="#F8766D" stroke-width="1.6"/>
<line x1="485.04" x2="485.04" y1="400.57" y2="412.18" stroke="#F8766D" stroke-width="1.6"/>
<line x1="498.69" x2="498.69" y1="400.57" y2="412.18" stroke="#F8766D" stroke-width="1.6"/>
<line x1="512.35" x2="512.35" y1="400.57" y2="412.18" stroke="#F8766D" stroke-width="1.6"/>
<line x1="526" x2="526" y1="400.57" y2="412.18" stroke="#F8766D" stroke-width="1.6"/>
<line x1="539.66" x2="539.66" y1="400.57" y2="412.18" stroke="#F8766D" stroke-width="1.6"/>
<line x1="553.31" x2="553.31" y1="400.57" y2="412.18" stroke="#F8766D" stroke-width="1.6"/>
<line x1="566.96" x2="566.96" y1="400.57" y2="412.18" stroke="#F8766D" stroke-width="1.6"/>
<circle cx="348.5" cy="470.2" r="3.75" fill="#F8766D"/>
<circle cx="362.15" cy="470.2" r="3.75" fill="#F8766D"/>
<circle cx="375.81" cy="470.2" r="3.75" fill="#F8766D"/>
<circle cx="389.46" cy="470.2" r="3.75" fill="#F8766D"/>
<circle cx="403.12" cy="470.2" r="3.75" fill="#F8766D"/>
<circle cx="416.77" cy="470.2" r="3.75" fill="#F8766D"/>
<circle cx="430.42" cy="464.18" r="3.75" fill="#F8766D"/>
<circle cx="444.08" cy="425.38" r="3.75" fill="#F8766D"/>
<circle cx="457.73" cy="410.8" r="3.75" fill="#F8766D"/>
<circle cx="471.39" cy="407.82" r="3.75" fill="#F8766D"/>
<circle cx="485.04" cy="406.37" r="3.75" fill="#F8766D"/>
<circle cx="498.69" cy="406.37" r="3.75" fill="#F8766D"/>
<circle cx="512.35" cy="406.37" r="3.75" fill="#F8766D"/>
<circle cx="526" cy="406.37" r="3.75" fill="#F8766D"/>
<circle cx="539.66" cy="406.37" r="3.75" fill="#F8766D"/>
<circle cx="553.31" cy="406.37" r="3.75" fill="#F8766D"/>
<circle cx="566.96" cy="406.37" r="3.75" fill="#F8766D"/>
<circle cx="348.5" cy="470.2" r="3.75" fill="#E76BF3"/>
<circle cx="362.15" cy="470.2" r="3.75" fill="#E76BF3"/>
<circle cx="375.81" cy="470.2" r="3.75" fill="#E76BF3"/>
<circle cx="389.46" cy="470.2" r="3.75" fill="#E76BF3"/>
<circle cx="403.12" cy="470.2" r="3.75" fill="#E76BF3"/>
<circle cx="416.77" cy="470.2" r="3.75" fill="#E76BF3"/>
<circle cx="430.42" cy="470.2" r="3.75" fill="#E76BF3"/>
<circle cx="444.08" cy="470.2" r="3.75" fill="#E76BF3"/>
<circle cx="457.73" cy="463.96" r="3.75" fill="#E76BF3"/>
<circle cx="471.39" cy="461.35" r="3.75" fill="#E76BF3"/>
<circle cx="485.04" cy="459.9" r="3.75" fill="#E76BF3"/>
<circle cx="498.69" cy="459.9" r="3.75" fill="#E76BF3"/>
<circle cx="512.35" cy="459.9" r="3.75" fill="#E76BF3"/>
<circle cx="526" cy="459.9" r="3.75" fill="#E76BF3"/>
<circle cx="539.66" cy="459.9" r="3.75" fill="#E76BF3"/>
<circle cx="553.31" cy="459.9" r="3.75" fill="#E76BF3"/>
<circle cx="566.96" cy="459.9" r="3.75" fill="#E76BF3"/>
<circle cx="348.5" cy="470.2" r="3.75" fill="#A3A500"/>
<circle cx="362.15" cy="470.2" r="3.75" fill="#A3A500"/>
<circle cx="375.81" cy="470.2" r="3.75" fill="#A3A500"/>
<circle cx="389.46" cy="470.2" r="3.75" fill="#A3A500"/>
<circle cx="403.12" cy="470.2" r="3.75" fill="#A3A500"/>
<circle cx="416.77" cy="470.2" r="3.75" fill="#A3A500"/>
<circle cx="430.42" cy="470.2" r="3.75" fill="#A3A500"/>
<circle cx="444.08" cy="470.2" r="3.75" fill="#A3A500"/>
<circle cx="457.73" cy="468.75" r="3.75" fill="#A3A500"/>
<circle cx="471.39" cy="468.75" r="3.75" fill="#A3A500"/>
<circle cx="485.04" cy="468.75" r="3.75" fill="#A3A500"/>
<circle cx="498.69" cy="468.75" r="3.75" fill="#A3A500"/>
<circle cx="512.35" cy="468.75" r="3.75" fill="#A3A500"/>
<circle cx="526" cy="466.5" r="3.75" fill="#A3A500"/>
<circle cx="539.66" cy="466.5" r="3.75" fill="#A3A500"/>
<circle cx="553.31" cy="466.5" r="3.75" fill="#A3A500"/>
<circle cx="566.96" cy="466.5" r="3.75" fill="#A3A500"/>
<circle cx="348.5" cy="470.2" r="3.75" fill="#00BF7D"/>
<circle cx="362.15" cy="470.2" r="3.75" fill="#00BF7D"/>
<circle cx="375.81" cy="470.2" r="3.75" fill="#00BF7D"/>
<circle cx="389.46" cy="470.2" r="3.75" fill="#00BF7D"/>
<circle cx="403.12" cy="470.2" r="3.75" fill="#00BF7D"/>
<circle cx="416.77" cy="470.2" r="3.75" fill="#00BF7D"/>
<circle cx="430.42" cy="470.2" r="3.75" fill="#00BF7D"/>
<circle cx="444.08" cy="470.2" r="3.75" fill="#00BF7D"/>
<circle cx="457.73" cy="470.2" r="3.75" fill="#00BF7D"/>
<circle cx="471.39" cy="470.2" r="3.75" fill="#00BF7D"/>
<circle cx="485.04" cy="470.2" r="3.75" fill="#00BF7D"/>
<circle cx="498.69" cy="470.2" r="3.75" fill="#00BF7D"/>
<circle cx="512.35" cy="470.2" r="3.75" fill="#00BF7D"/>
<circle cx="526" cy="470.2" r="3.75" fill="#00BF7D"/>
<circle cx="539.66" cy="470.2" r="3.75" fill="#00BF7D"/>
<circle cx="553.31" cy="470.2" r="3.75" fill="#00BF7D"/>
<circle cx="566.96" cy="470.2" r="3.75" fill="#00BF7D"/>
<circle cx="348.5" cy="470.2" r="3.75" fill="#00B0F6"/>
<circle cx="362.15" cy="470.2" r="3.75" fill="#00B0F6"/>
<circle cx="375.81" cy="470.2" r="3.75" fill="#00B0F6"/>
<circle cx="389.46" cy="470.2" r="3.75" fill="#00B0F6"/>
<circle cx="403.12" cy="470.2" r="3.75" fill="#00B0F6"/>
<circle cx="416.77" cy="470.2" r="3.75" fill="#00B0F6"/>
<circle cx="430.42" cy="470.2" r="3.75" fill="#00B0F6"/>
<circle cx="444.08" cy="470.2" r="3.75" fill="#00B0F6"/>
<circle cx="457.73" cy="470.2" r="3.75" fill="#00B0F6"/>
<circle cx="471.39" cy="470.2" r="3.75" fill="#00B0F6"/>
<circle cx="485.04" cy="470.2" r="3.75" fill="#00B0F6"/>
<circle cx="498.69" cy="470.2" r="3.75" fill="#00B0F6"/>
<circle cx="512.35" cy="470.2" r="3.75" fill="#00B0F6"/>
<circle cx="526" cy="470.2" r="3.75" fill="#00B0F6"/>
<circle cx="539.66" cy="470.2" r="3.75" fill="#00B0F6"/>
<circle cx="553.31" cy="470.2" r="3.75" fill="#00B0F6"/>
<circle cx="566.96" cy="470.2" r="3.75" fill="#00B0F6"/>
<rect x="62" y="487.2" width="263.5" height="30.6" fill="#CCCCCC"/>
<text x="193.75" y="509.9" font-size="20.2" text-anchor="middle" fill="#1a1a1a" stroke="#1a1a1a" stroke-width="0.3">pPAC</text>
<text x="72" y="510" font-size="23.6" font-weight="bold" fill="#000" stroke="#000" stroke-width="0.3">g</text>
<polyline points="73.9,632.2 87.55,632.2 101.21,632.2 114.86,629.15 128.52,627.2 142.17,609.06 155.82,595.57 169.48,572.8 183.13,567.14 196.79,563.66 210.44,563.37 224.09,564.89 237.75,562.72 251.4,562.72 265.06,561.19 278.71,561.19 292.36,561.19" fill="none" stroke="#F8766D" stroke-width="1.7" stroke-linejoin="round"/>
<polyline points="73.9,632.2 87.55,632.2 101.21,632.2 114.86,632.2 128.52,632.2 142.17,628.57 155.82,627.2 169.48,619.43 183.13,599.13 196.79,584.4 210.44,583.02 224.09,581.57 237.75,580.12 251.4,580.12 265.06,580.12 278.71,580.12 292.36,580.12" fill="none" stroke="#A3A500" stroke-width="1.7" stroke-linejoin="round"/>
<polyline points="73.9,632.2 87.55,632.2 101.21,632.2 114.86,630.02 128.52,627.2 142.17,627.85 155.82,626.98 169.48,626.98 183.13,622.34 196.79,614.65 210.44,612.83 224.09,612.83 237.75,611.46 251.4,610.08 265.06,610.08 278.71,610.08 292.36,610.08" fill="none" stroke="#00BF7D" stroke-width="1.7" stroke-linejoin="round"/>
<polyline points="73.9,632.2 87.55,632.2 101.21,632.2 114.86,632.2 128.52,632.2 142.17,626.18 155.82,626.18 169.48,620.81 183.13,617.55 196.79,616.82 210.44,616.24 224.09,616.24 237.75,616.24 251.4,616.24 265.06,616.24 278.71,616.24 292.36,616.24" fill="none" stroke="#00B0F6" stroke-width="1.7" stroke-linejoin="round"/>
<polyline points="73.9,632.2 87.55,632.2 101.21,632.2 114.86,632.2 128.52,630.02 142.17,607.83 155.82,595.57 169.48,581.57 183.13,571.49 196.79,567.14 210.44,565.91 224.09,563.01 237.75,562.72 251.4,562.72 265.06,562.72 278.71,562.72 292.36,562.72" fill="none" stroke="#E76BF3" stroke-width="1.7" stroke-linejoin="round"/>
<line x1="237.75" x2="237.75" y1="575.77" y2="584.48" stroke="#A3A500" stroke-width="1.6"/>
<line x1="251.4" x2="251.4" y1="575.77" y2="584.48" stroke="#A3A500" stroke-width="1.6"/>
<line x1="265.06" x2="265.06" y1="575.77" y2="584.48" stroke="#A3A500" stroke-width="1.6"/>
<line x1="278.71" x2="278.71" y1="575.77" y2="584.48" stroke="#A3A500" stroke-width="1.6"/>
<line x1="292.36" x2="292.36" y1="575.77" y2="584.48" stroke="#A3A500" stroke-width="1.6"/>
<circle cx="73.9" cy="632.2" r="3.75" fill="#F8766D"/>
<circle cx="87.55" cy="632.2" r="3.75" fill="#F8766D"/>
<circle cx="101.21" cy="632.2" r="3.75" fill="#F8766D"/>
<circle cx="114.86" cy="629.15" r="3.75" fill="#F8766D"/>
<circle cx="128.52" cy="627.2" r="3.75" fill="#F8766D"/>
<circle cx="142.17" cy="609.06" r="3.75" fill="#F8766D"/>
<circle cx="155.82" cy="595.57" r="3.75" fill="#F8766D"/>
<circle cx="169.48" cy="572.8" r="3.75" fill="#F8766D"/>
<circle cx="183.13" cy="567.14" r="3.75" fill="#F8766D"/>
<circle cx="196.79" cy="563.66" r="3.75" fill="#F8766D"/>
<circle cx="210.44" cy="563.37" r="3.75" fill="#F8766D"/>
<circle cx="224.09" cy="564.89" r="3.75" fill="#F8766D"/>
<circle cx="237.75" cy="562.72" r="3.75" fill="#F8766D"/>
<circle cx="251.4" cy="562.72" r="3.75" fill="#F8766D"/>
<circle cx="265.06" cy="561.19" r="3.75" fill="#F8766D"/>
<circle cx="278.71" cy="561.19" r="3.75" fill="#F8766D"/>
<circle cx="292.36" cy="561.19" r="3.75" fill="#F8766D"/>
<circle cx="73.9" cy="632.2" r="3.75" fill="#E76BF3"/>
<circle cx="87.55" cy="632.2" r="3.75" fill="#E76BF3"/>
<circle cx="101.21" cy="632.2" r="3.75" fill="#E76BF3"/>
<circle cx="114.86" cy="632.2" r="3.75" fill="#E76BF3"/>
<circle cx="128.52" cy="630.02" r="3.75" fill="#E76BF3"/>
<circle cx="142.17" cy="607.83" r="3.75" fill="#E76BF3"/>
<circle cx="155.82" cy="595.57" r="3.75" fill="#E76BF3"/>
<circle cx="169.48" cy="581.57" r="3.75" fill="#E76BF3"/>
<circle cx="183.13" cy="571.49" r="3.75" fill="#E76BF3"/>
<circle cx="196.79" cy="567.14" r="3.75" fill="#E76BF3"/>
<circle cx="210.44" cy="565.91" r="3.75" fill="#E76BF3"/>
<circle cx="224.09" cy="563.01" r="3.75" fill="#E76BF3"/>
<circle cx="237.75" cy="562.72" r="3.75" fill="#E76BF3"/>
<circle cx="251.4" cy="562.72" r="3.75" fill="#E76BF3"/>
<circle cx="265.06" cy="562.72" r="3.75" fill="#E76BF3"/>
<circle cx="278.71" cy="562.72" r="3.75" fill="#E76BF3"/>
<circle cx="292.36" cy="562.72" r="3.75" fill="#E76BF3"/>
<circle cx="73.9" cy="632.2" r="3.75" fill="#A3A500"/>
<circle cx="87.55" cy="632.2" r="3.75" fill="#A3A500"/>
<circle cx="101.21" cy="632.2" r="3.75" fill="#A3A500"/>
<circle cx="114.86" cy="632.2" r="3.75" fill="#A3A500"/>
<circle cx="128.52" cy="632.2" r="3.75" fill="#A3A500"/>
<circle cx="142.17" cy="628.57" r="3.75" fill="#A3A500"/>
<circle cx="155.82" cy="627.2" r="3.75" fill="#A3A500"/>
<circle cx="169.48" cy="619.43" r="3.75" fill="#A3A500"/>
<circle cx="183.13" cy="599.13" r="3.75" fill="#A3A500"/>
<circle cx="196.79" cy="584.4" r="3.75" fill="#A3A500"/>
<circle cx="210.44" cy="583.02" r="3.75" fill="#A3A500"/>
<circle cx="224.09" cy="581.57" r="3.75" fill="#A3A500"/>
<circle cx="237.75" cy="580.12" r="3.75" fill="#A3A500"/>
<circle cx="251.4" cy="580.12" r="3.75" fill="#A3A500"/>
<circle cx="265.06" cy="580.12" r="3.75" fill="#A3A500"/>
<circle cx="278.71" cy="580.12" r="3.75" fill="#A3A500"/>
<circle cx="292.36" cy="580.12" r="3.75" fill="#A3A500"/>
<circle cx="73.9" cy="632.2" r="3.75" fill="#00BF7D"/>
<circle cx="87.55" cy="632.2" r="3.75" fill="#00BF7D"/>
<circle cx="101.21" cy="632.2" r="3.75" fill="#00BF7D"/>
<circle cx="114.86" cy="630.02" r="3.75" fill="#00BF7D"/>
<circle cx="128.52" cy="627.2" r="3.75" fill="#00BF7D"/>
<circle cx="142.17" cy="627.85" r="3.75" fill="#00BF7D"/>
<circle cx="155.82" cy="626.98" r="3.75" fill="#00BF7D"/>
<circle cx="169.48" cy="626.98" r="3.75" fill="#00BF7D"/>
<circle cx="183.13" cy="622.34" r="3.75" fill="#00BF7D"/>
<circle cx="196.79" cy="614.65" r="3.75" fill="#00BF7D"/>
<circle cx="210.44" cy="612.83" r="3.75" fill="#00BF7D"/>
<circle cx="224.09" cy="612.83" r="3.75" fill="#00BF7D"/>
<circle cx="237.75" cy="611.46" r="3.75" fill="#00BF7D"/>
<circle cx="251.4" cy="610.08" r="3.75" fill="#00BF7D"/>
<circle cx="265.06" cy="610.08" r="3.75" fill="#00BF7D"/>
<circle cx="278.71" cy="610.08" r="3.75" fill="#00BF7D"/>
<circle cx="292.36" cy="610.08" r="3.75" fill="#00BF7D"/>
<circle cx="73.9" cy="632.2" r="3.75" fill="#00B0F6"/>
<circle cx="87.55" cy="632.2" r="3.75" fill="#00B0F6"/>
<circle cx="101.21" cy="632.2" r="3.75" fill="#00B0F6"/>
<circle cx="114.86" cy="632.2" r="3.75" fill="#00B0F6"/>
<circle cx="128.52" cy="632.2" r="3.75" fill="#00B0F6"/>
<circle cx="142.17" cy="626.18" r="3.75" fill="#00B0F6"/>
<circle cx="155.82" cy="626.18" r="3.75" fill="#00B0F6"/>
<circle cx="169.48" cy="620.81" r="3.75" fill="#00B0F6"/>
<circle cx="183.13" cy="617.55" r="3.75" fill="#00B0F6"/>
<circle cx="196.79" cy="616.82" r="3.75" fill="#00B0F6"/>
<circle cx="210.44" cy="616.24" r="3.75" fill="#00B0F6"/>
<circle cx="224.09" cy="616.24" r="3.75" fill="#00B0F6"/>
<circle cx="237.75" cy="616.24" r="3.75" fill="#00B0F6"/>
<circle cx="251.4" cy="616.24" r="3.75" fill="#00B0F6"/>
<circle cx="265.06" cy="616.24" r="3.75" fill="#00B0F6"/>
<circle cx="278.71" cy="616.24" r="3.75" fill="#00B0F6"/>
<circle cx="292.36" cy="616.24" r="3.75" fill="#00B0F6"/>
<line x1="62.1" x2="62.1" y1="516.8" y2="638.6" stroke="#262626" stroke-width="1.95"/>
<line x1="56.2" x2="62.1" y1="632.2" y2="632.2" stroke="#262626" stroke-width="1.95"/>
<text transform="translate(40.18 639.5) scale(1 1.05)" font-size="20" fill="#1a1a1a" stroke="#1a1a1a" stroke-width="0.3">0</text>
<line x1="56.2" x2="62.1" y1="595.94" y2="595.94" stroke="#262626" stroke-width="1.95"/>
<text transform="translate(40.18 603.24) scale(1 1.05)" font-size="20" fill="#1a1a1a" stroke="#1a1a1a" stroke-width="0.3">5</text>
<line x1="56.2" x2="62.1" y1="559.67" y2="559.67" stroke="#262626" stroke-width="1.95"/>
<path transform="translate(29.05 566.97) scale(0.009766 -0.010254)" d="M515 0L515 1237L197 1010L197 1180L530 1409L696 1409L696 0Z" fill="#1a1a1a" stroke="#1a1a1a" stroke-width="0.3" vector-effect="non-scaling-stroke"/>
<text transform="translate(40.18 566.97) scale(1 1.05)" font-size="20" fill="#1a1a1a" stroke="#1a1a1a" stroke-width="0.3">0</text>
<line x1="56.2" x2="62.1" y1="523.41" y2="523.41" stroke="#262626" stroke-width="1.95"/>
<path transform="translate(29.05 530.71) scale(0.009766 -0.010254)" d="M515 0L515 1237L197 1010L197 1180L530 1409L696 1409L696 0Z" fill="#1a1a1a" stroke="#1a1a1a" stroke-width="0.3" vector-effect="non-scaling-stroke"/>
<text transform="translate(40.18 530.71) scale(1 1.05)" font-size="20" fill="#1a1a1a" stroke="#1a1a1a" stroke-width="0.3">5</text>
<line x1="61.7" x2="325.5" y1="637.3" y2="637.3" stroke="#262626" stroke-width="1.95"/>
<line x1="73.9" x2="73.9" y1="637.3" y2="643.5" stroke="#262626" stroke-width="1.95"/>
<text transform="translate(68.34 663.1) scale(1 1.05)" font-size="20" fill="#1a1a1a" stroke="#1a1a1a" stroke-width="0.3">0</text>
<line x1="142.17" x2="142.17" y1="637.3" y2="643.5" stroke="#262626" stroke-width="1.95"/>
<path transform="translate(131.05 663.1) scale(0.009766 -0.010254)" d="M515 0L515 1237L197 1010L197 1180L530 1409L696 1409L696 0Z" fill="#1a1a1a" stroke="#1a1a1a" stroke-width="0.3" vector-effect="non-scaling-stroke"/>
<text transform="translate(142.17 663.1) scale(1 1.05)" font-size="20" fill="#1a1a1a" stroke="#1a1a1a" stroke-width="0.3">0</text>
<line x1="210.44" x2="210.44" y1="637.3" y2="643.5" stroke="#262626" stroke-width="1.95"/>
<text transform="translate(199.32 663.1) scale(1 1.05)" font-size="20" fill="#1a1a1a" stroke="#1a1a1a" stroke-width="0.3">2</text>
<text transform="translate(210.44 663.1) scale(1 1.05)" font-size="20" fill="#1a1a1a" stroke="#1a1a1a" stroke-width="0.3">0</text>
<line x1="278.71" x2="278.71" y1="637.3" y2="643.5" stroke="#262626" stroke-width="1.95"/>
<text transform="translate(267.59 663.1) scale(1 1.05)" font-size="20" fill="#1a1a1a" stroke="#1a1a1a" stroke-width="0.3">3</text>
<text transform="translate(278.71 663.1) scale(1 1.05)" font-size="20" fill="#1a1a1a" stroke="#1a1a1a" stroke-width="0.3">0</text>
<rect x="336.6" y="487.2" width="263.4" height="30.6" fill="#CCCCCC"/>
<text x="468.3" y="509.9" font-size="20.2" text-anchor="middle" fill="#1a1a1a" stroke="#1a1a1a" stroke-width="0.3">pPAO</text>
<text x="346.6" y="513.7" font-size="23.6" font-weight="bold" fill="#000" stroke="#000" stroke-width="0.3">h</text>
<polyline points="348.5,632.2 362.15,632.2 375.81,632.2 389.46,624.58 403.12,624.95 416.77,574.18 430.42,558.29 444.08,545.67 457.73,541.17 471.39,535.74 485.04,533.63 498.69,533.63 512.35,533.63 526,533.63 539.66,533.63 553.31,533.63 566.96,533.63" fill="none" stroke="#F8766D" stroke-width="1.7" stroke-linejoin="round"/>
<polyline points="348.5,632.2 362.15,632.2 375.81,631.98 389.46,631.47 403.12,631.11 416.77,632.2 430.42,630.02 444.08,626.76 457.73,610.44 471.39,588.83 485.04,584.33 498.69,577.95 512.35,575.99 526,575.99 539.66,575.99 553.31,575.99 566.96,575.99" fill="none" stroke="#A3A500" stroke-width="1.7" stroke-linejoin="round"/>
<polyline points="348.5,632.2 362.15,632.2 375.81,632.2 389.46,631.47 403.12,630.31 416.77,625.31 430.42,625.31 444.08,625.31 457.73,624.51 471.39,624.51 485.04,623.42 498.69,621.9 512.35,620.6 526,620.6 539.66,620.6 553.31,619.58 566.96,617.69" fill="none" stroke="#00BF7D" stroke-width="1.7" stroke-linejoin="round"/>
<polyline points="348.5,632.2 362.15,632.2 375.81,631.98 389.46,631.47 403.12,631.11 416.77,630.31 430.42,630.31 444.08,629.08 457.73,629.3 471.39,629.3 485.04,629.52 498.69,629.52 512.35,627.99 526,627.99 539.66,627.99 553.31,627.99 566.96,627.99" fill="none" stroke="#00B0F6" stroke-width="1.7" stroke-linejoin="round"/>
<polyline points="348.5,632.2 362.15,632.2 375.81,632.2 389.46,630.31 403.12,625.31 416.77,618.71 430.42,611.96 444.08,578.67 457.73,568.37 471.39,568.37 485.04,568.37 498.69,568.37 512.35,568.37 526,568.37 539.66,568.37 553.31,568.37 566.96,567.21" fill="none" stroke="#E76BF3" stroke-width="1.7" stroke-linejoin="round"/>
<line x1="444.08" x2="444.08" y1="574.32" y2="583.02" stroke="#E76BF3" stroke-width="1.6"/>
<line x1="457.73" x2="457.73" y1="562.57" y2="574.18" stroke="#E76BF3" stroke-width="1.6"/>
<line x1="471.39" x2="471.39" y1="562.57" y2="574.18" stroke="#E76BF3" stroke-width="1.6"/>
<line x1="485.04" x2="485.04" y1="562.57" y2="574.18" stroke="#E76BF3" stroke-width="1.6"/>
<line x1="498.69" x2="498.69" y1="562.57" y2="574.18" stroke="#E76BF3" stroke-width="1.6"/>
<line x1="512.35" x2="512.35" y1="562.57" y2="574.18" stroke="#E76BF3" stroke-width="1.6"/>
<line x1="526" x2="526" y1="562.57" y2="574.18" stroke="#E76BF3" stroke-width="1.6"/>
<line x1="539.66" x2="539.66" y1="562.57" y2="574.18" stroke="#E76BF3" stroke-width="1.6"/>
<line x1="553.31" x2="553.31" y1="562.57" y2="574.18" stroke="#E76BF3" stroke-width="1.6"/>
<line x1="566.96" x2="566.96" y1="561.41" y2="573.02" stroke="#E76BF3" stroke-width="1.6"/>
<circle cx="348.5" cy="632.2" r="3.75" fill="#F8766D"/>
<circle cx="362.15" cy="632.2" r="3.75" fill="#F8766D"/>
<circle cx="375.81" cy="632.2" r="3.75" fill="#F8766D"/>
<circle cx="389.46" cy="624.58" r="3.75" fill="#F8766D"/>
<circle cx="403.12" cy="624.95" r="3.75" fill="#F8766D"/>
<circle cx="416.77" cy="574.18" r="3.75" fill="#F8766D"/>
<circle cx="430.42" cy="558.29" r="3.75" fill="#F8766D"/>
<circle cx="444.08" cy="545.67" r="3.75" fill="#F8766D"/>
<circle cx="457.73" cy="541.17" r="3.75" fill="#F8766D"/>
<circle cx="471.39" cy="535.74" r="3.75" fill="#F8766D"/>
<circle cx="485.04" cy="533.63" r="3.75" fill="#F8766D"/>
<circle cx="498.69" cy="533.63" r="3.75" fill="#F8766D"/>
<circle cx="512.35" cy="533.63" r="3.75" fill="#F8766D"/>
<circle cx="526" cy="533.63" r="3.75" fill="#F8766D"/>
<circle cx="539.66" cy="533.63" r="3.75" fill="#F8766D"/>
<circle cx="553.31" cy="533.63" r="3.75" fill="#F8766D"/>
<circle cx="566.96" cy="533.63" r="3.75" fill="#F8766D"/>
<circle cx="348.5" cy="632.2" r="3.75" fill="#E76BF3"/>
<circle cx="362.15" cy="632.2" r="3.75" fill="#E76BF3"/>
<circle cx="375.81" cy="632.2" r="3.75" fill="#E76BF3"/>
<circle cx="389.46" cy="630.31" r="3.75" fill="#E76BF3"/>
<circle cx="403.12" cy="625.31" r="3.75" fill="#E76BF3"/>
<circle cx="416.77" cy="618.71" r="3.75" fill="#E76BF3"/>
<circle cx="430.42" cy="611.96" r="3.75" fill="#E76BF3"/>
<circle cx="444.08" cy="578.67" r="3.75" fill="#E76BF3"/>
<circle cx="457.73" cy="568.37" r="3.75" fill="#E76BF3"/>
<circle cx="471.39" cy="568.37" r="3.75" fill="#E76BF3"/>
<circle cx="485.04" cy="568.37" r="3.75" fill="#E76BF3"/>
<circle cx="498.69" cy="568.37" r="3.75" fill="#E76BF3"/>
<circle cx="512.35" cy="568.37" r="3.75" fill="#E76BF3"/>
<circle cx="526" cy="568.37" r="3.75" fill="#E76BF3"/>
<circle cx="539.66" cy="568.37" r="3.75" fill="#E76BF3"/>
<circle cx="553.31" cy="568.37" r="3.75" fill="#E76BF3"/>
<circle cx="566.96" cy="567.21" r="3.75" fill="#E76BF3"/>
<circle cx="348.5" cy="632.2" r="3.75" fill="#A3A500"/>
<circle cx="362.15" cy="632.2" r="3.75" fill="#A3A500"/>
<circle cx="375.81" cy="631.98" r="3.75" fill="#A3A500"/>
<circle cx="389.46" cy="631.47" r="3.75" fill="#A3A500"/>
<circle cx="403.12" cy="631.11" r="3.75" fill="#A3A500"/>
<circle cx="416.77" cy="632.2" r="3.75" fill="#A3A500"/>
<circle cx="430.42" cy="630.02" r="3.75" fill="#A3A500"/>
<circle cx="444.08" cy="626.76" r="3.75" fill="#A3A500"/>
<circle cx="457.73" cy="610.44" r="3.75" fill="#A3A500"/>
<circle cx="471.39" cy="588.83" r="3.75" fill="#A3A500"/>
<circle cx="485.04" cy="584.33" r="3.75" fill="#A3A500"/>
<circle cx="498.69" cy="577.95" r="3.75" fill="#A3A500"/>
<circle cx="512.35" cy="575.99" r="3.75" fill="#A3A500"/>
<circle cx="526" cy="575.99" r="3.75" fill="#A3A500"/>
<circle cx="539.66" cy="575.99" r="3.75" fill="#A3A500"/>
<circle cx="553.31" cy="575.99" r="3.75" fill="#A3A500"/>
<circle cx="566.96" cy="575.99" r="3.75" fill="#A3A500"/>
<circle cx="348.5" cy="632.2" r="3.75" fill="#00BF7D"/>
<circle cx="362.15" cy="632.2" r="3.75" fill="#00BF7D"/>
<circle cx="375.81" cy="632.2" r="3.75" fill="#00BF7D"/>
<circle cx="389.46" cy="631.47" r="3.75" fill="#00BF7D"/>
<circle cx="403.12" cy="630.31" r="3.75" fill="#00BF7D"/>
<circle cx="416.77" cy="625.31" r="3.75" fill="#00BF7D"/>
<circle cx="430.42" cy="625.31" r="3.75" fill="#00BF7D"/>
<circle cx="444.08" cy="625.31" r="3.75" fill="#00BF7D"/>
<circle cx="457.73" cy="624.51" r="3.75" fill="#00BF7D"/>
<circle cx="471.39" cy="624.51" r="3.75" fill="#00BF7D"/>
<circle cx="485.04" cy="623.42" r="3.75" fill="#00BF7D"/>
<circle cx="498.69" cy="621.9" r="3.75" fill="#00BF7D"/>
<circle cx="512.35" cy="620.6" r="3.75" fill="#00BF7D"/>
<circle cx="526" cy="620.6" r="3.75" fill="#00BF7D"/>
<circle cx="539.66" cy="620.6" r="3.75" fill="#00BF7D"/>
<circle cx="553.31" cy="619.58" r="3.75" fill="#00BF7D"/>
<circle cx="566.96" cy="617.69" r="3.75" fill="#00BF7D"/>
<circle cx="348.5" cy="632.2" r="3.75" fill="#00B0F6"/>
<circle cx="362.15" cy="632.2" r="3.75" fill="#00B0F6"/>
<circle cx="375.81" cy="631.98" r="3.75" fill="#00B0F6"/>
<circle cx="389.46" cy="631.47" r="3.75" fill="#00B0F6"/>
<circle cx="403.12" cy="631.11" r="3.75" fill="#00B0F6"/>
<circle cx="416.77" cy="630.31" r="3.75" fill="#00B0F6"/>
<circle cx="430.42" cy="630.31" r="3.75" fill="#00B0F6"/>
<circle cx="444.08" cy="629.08" r="3.75" fill="#00B0F6"/>
<circle cx="457.73" cy="629.3" r="3.75" fill="#00B0F6"/>
<circle cx="471.39" cy="629.3" r="3.75" fill="#00B0F6"/>
<circle cx="485.04" cy="629.52" r="3.75" fill="#00B0F6"/>
<circle cx="498.69" cy="629.52" r="3.75" fill="#00B0F6"/>
<circle cx="512.35" cy="627.99" r="3.75" fill="#00B0F6"/>
<circle cx="526" cy="627.99" r="3.75" fill="#00B0F6"/>
<circle cx="539.66" cy="627.99" r="3.75" fill="#00B0F6"/>
<circle cx="553.31" cy="627.99" r="3.75" fill="#00B0F6"/>
<circle cx="566.96" cy="627.99" r="3.75" fill="#00B0F6"/>
<line x1="336.3" x2="600" y1="637.3" y2="637.3" stroke="#262626" stroke-width="1.95"/>
<line x1="348.5" x2="348.5" y1="637.3" y2="643.5" stroke="#262626" stroke-width="1.95"/>
<text transform="translate(342.94 663.1) scale(1 1.05)" font-size="20" fill="#1a1a1a" stroke="#1a1a1a" stroke-width="0.3">0</text>
<line x1="416.77" x2="416.77" y1="637.3" y2="643.5" stroke="#262626" stroke-width="1.95"/>
<path transform="translate(405.65 663.1) scale(0.009766 -0.010254)" d="M515 0L515 1237L197 1010L197 1180L530 1409L696 1409L696 0Z" fill="#1a1a1a" stroke="#1a1a1a" stroke-width="0.3" vector-effect="non-scaling-stroke"/>
<text transform="translate(416.77 663.1) scale(1 1.05)" font-size="20" fill="#1a1a1a" stroke="#1a1a1a" stroke-width="0.3">0</text>
<line x1="485.04" x2="485.04" y1="637.3" y2="643.5" stroke="#262626" stroke-width="1.95"/>
<text transform="translate(473.92 663.1) scale(1 1.05)" font-size="20" fill="#1a1a1a" stroke="#1a1a1a" stroke-width="0.3">2</text>
<text transform="translate(485.04 663.1) scale(1 1.05)" font-size="20" fill="#1a1a1a" stroke="#1a1a1a" stroke-width="0.3">0</text>
<line x1="553.31" x2="553.31" y1="637.3" y2="643.5" stroke="#262626" stroke-width="1.95"/>
<text transform="translate(542.19 663.1) scale(1 1.05)" font-size="20" fill="#1a1a1a" stroke="#1a1a1a" stroke-width="0.3">3</text>
<text transform="translate(553.31 663.1) scale(1 1.05)" font-size="20" fill="#1a1a1a" stroke="#1a1a1a" stroke-width="0.3">0</text>
<text x="331" y="690.2" font-size="23.6" text-anchor="middle" fill="#000" stroke="#000" stroke-width="0.3">Days</text>
<text transform="translate(18.6 338.3) rotate(-90)" x="0" y="0" font-size="23.6" text-anchor="middle" fill="#000" stroke="#000" stroke-width="0.3">Cumulative germination</text>
<line x1="616.8" x2="637.6" y1="42.3" y2="42.3" stroke="#F8766D" stroke-width="1.7"/>
<circle cx="627.2" cy="42.3" r="3.75" fill="#F8766D"/>
<text transform="translate(651.5 49.6) scale(1 1.05)" font-size="20" fill="#1a1a1a" stroke="#1a1a1a" stroke-width="0.3">0</text>
<line x1="616.8" x2="637.6" y1="66.1" y2="66.1" stroke="#E76BF3" stroke-width="1.7"/>
<circle cx="627.2" cy="66.1" r="3.75" fill="#E76BF3"/>
<text transform="translate(651.5 73.4) scale(1 1.05)" font-size="20" fill="#1a1a1a" stroke="#1a1a1a" stroke-width="0.3">5</text>
<text transform="translate(662.62 73.4) scale(1 1.05)" font-size="20" fill="#1a1a1a" stroke="#1a1a1a" stroke-width="0.3">0</text>
<line x1="616.8" x2="637.6" y1="95.7" y2="95.7" stroke="#A3A500" stroke-width="1.7"/>
<circle cx="627.2" cy="95.7" r="3.75" fill="#A3A500"/>
<path transform="translate(651.5 103) scale(0.009766 -0.010254)" d="M515 0L515 1237L197 1010L197 1180L530 1409L696 1409L696 0Z" fill="#1a1a1a" stroke="#1a1a1a" stroke-width="0.3" vector-effect="non-scaling-stroke"/>
<text transform="translate(662.62 103) scale(1 1.05)" font-size="20" fill="#1a1a1a" stroke="#1a1a1a" stroke-width="0.3">0</text>
<text transform="translate(673.75 103) scale(1 1.05)" font-size="20" fill="#1a1a1a" stroke="#1a1a1a" stroke-width="0.3">0</text>
<line x1="616.8" x2="637.6" y1="121.75" y2="121.75" stroke="#00BF7D" stroke-width="1.7"/>
<circle cx="627.2" cy="121.75" r="3.75" fill="#00BF7D"/>
<path transform="translate(651.5 129.05) scale(0.009766 -0.010254)" d="M515 0L515 1237L197 1010L197 1180L530 1409L696 1409L696 0Z" fill="#1a1a1a" stroke="#1a1a1a" stroke-width="0.3" vector-effect="non-scaling-stroke"/>
<text transform="translate(662.62 129.05) scale(1 1.05)" font-size="20" fill="#1a1a1a" stroke="#1a1a1a" stroke-width="0.3">5</text>
<text transform="translate(673.75 129.05) scale(1 1.05)" font-size="20" fill="#1a1a1a" stroke="#1a1a1a" stroke-width="0.3">0</text>
<line x1="616.8" x2="637.6" y1="147.5" y2="147.5" stroke="#00B0F6" stroke-width="1.7"/>
<circle cx="627.2" cy="147.5" r="3.75" fill="#00B0F6"/>
<text transform="translate(651.5 154.8) scale(1 1.05)" font-size="20" fill="#1a1a1a" stroke="#1a1a1a" stroke-width="0.3">2</text>
<text transform="translate(662.62 154.8) scale(1 1.05)" font-size="20" fill="#1a1a1a" stroke="#1a1a1a" stroke-width="0.3">0</text>
<text transform="translate(673.75 154.8) scale(1 1.05)" font-size="20" fill="#1a1a1a" stroke="#1a1a1a" stroke-width="0.3">0</text>
</svg>
</body></html>
